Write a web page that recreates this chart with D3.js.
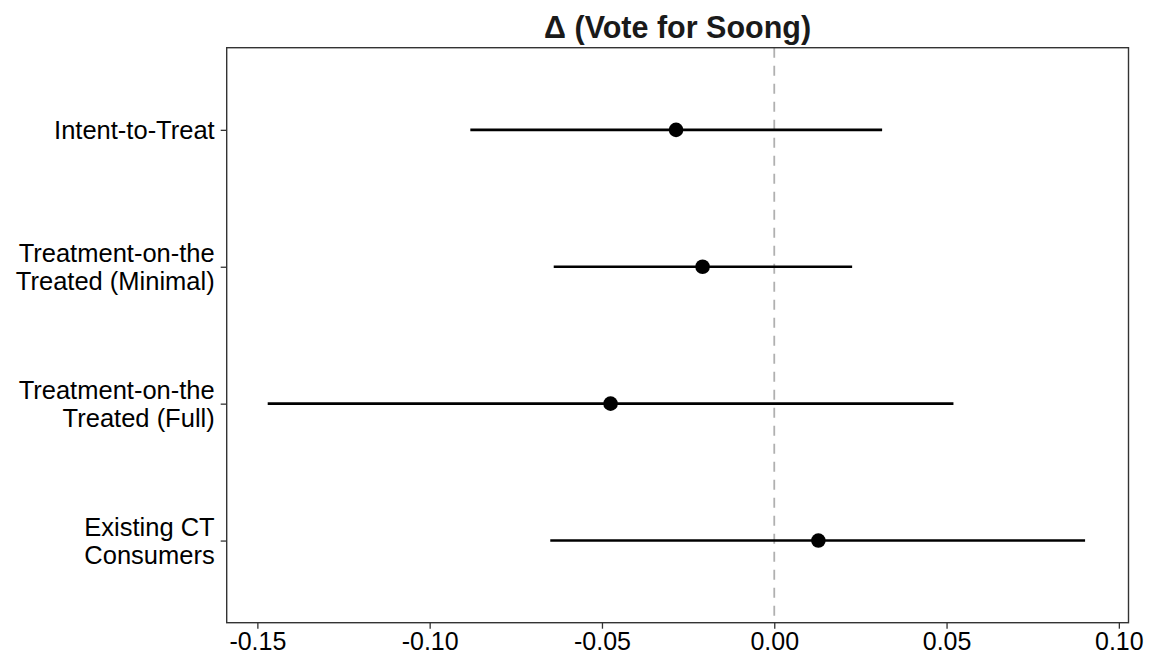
<!DOCTYPE html>
<html>
<head>
<meta charset="utf-8">
<script src="https://cdn.jsdelivr.net/npm/d3@7"></script>
<style>
  body { margin: 0; background: #fff; }
  svg text { font-family: "Liberation Sans", Arial, Helvetica, sans-serif; }
</style>
</head>
<body>
<div id="chart"></div>
<script>
// estimates
var labels = [
  ["Intent-to-Treat"],
  ["Treatment-on-the", "Treated (Minimal)"],
  ["Treatment-on-the", "Treated (Full)"],
  ["Existing CT", "Consumers"]
];
var estimates = [-0.0285, -0.0208, -0.0475, 0.0128];
var lower     = [-0.0882, -0.0640, -0.1470, -0.0650];
var upper     = [ 0.0313,  0.0226,  0.0520,  0.0902];
var xTicks    = [-0.15, -0.10, -0.05, 0.00, 0.05, 0.10];

var data = labels.map(function(l, i) {
  return {name: l.join(" "), lines: l, est: estimates[i], lo: lower[i], hi: upper[i]};
});

var W = 1150, H = 664;
var margin = {top: 47.7, right: 21.5, bottom: 41.3, left: 226.7},
    width = W - margin.left - margin.right,
    height = H - margin.top - margin.bottom;

var svg = d3.select("#chart")
  .append("svg")
    .attr("width", W)
    .attr("height", H)
  .append("g")
    .attr("transform", "translate(" + margin.left + "," + margin.top + ")");

var x = d3.scaleLinear()
  .domain([-0.1589, 0.1028])
  .range([0, width]);

var y = d3.scalePoint()
  .domain(data.map(function(d) { return d.name; }))
  .range([0, height])
  .padding(0.6);

// zero reference line
svg.append("line")
  .attr("x1", x(0)).attr("x2", x(0))
  .attr("y1", 0).attr("y2", height)
  .attr("stroke", "#b0b0b0")
  .attr("stroke-width", 1.8)
  .attr("stroke-dasharray", "10,8");

// intervals
svg.selectAll(".ci")
  .data(data)
  .enter()
  .append("line")
    .attr("class", "ci")
    .attr("x1", function(d) { return x(d.lo); })
    .attr("x2", function(d) { return x(d.hi); })
    .attr("y1", function(d) { return y(d.name); })
    .attr("y2", function(d) { return y(d.name); })
    .attr("stroke", "#000")
    .attr("stroke-width", 2.6);

// points
svg.selectAll(".pt")
  .data(data)
  .enter()
  .append("circle")
    .attr("class", "pt")
    .attr("cx", function(d) { return x(d.est); })
    .attr("cy", function(d) { return y(d.name); })
    .attr("r", 7.3)
    .style("fill", "#000");

// x axis
var gx = svg.append("g")
  .attr("transform", "translate(0," + height + ")")
  .call(d3.axisBottom(x).tickValues(xTicks).tickSize(6).tickSizeOuter(0)
    .tickFormat(function(d) { return d3.format(".2f")(d).replace("\u2212", "-"); }));
gx.select(".domain").remove();
gx.selectAll(".tick line").attr("stroke", "#333").attr("stroke-width", 1.3);
gx.selectAll(".tick text")
  .attr("y", 10)
  .attr("fill", "#000")
  .style("font-size", "25px");

// y axis
var gy = svg.append("g")
  .call(d3.axisLeft(y).tickSize(6).tickSizeOuter(0).tickFormat(""));
gy.select(".domain").remove();
gy.selectAll(".tick line").attr("stroke", "#333").attr("stroke-width", 1.3);

var lineH = 28;
gy.selectAll(".tick").each(function(name) {
  var d = data.find(function(e) { return e.name == name; });
  var t = d3.select(this).append("text")
    .attr("x", -12)
    .attr("fill", "#000")
    .attr("text-anchor", "end")
    .style("font-size", "25.5px");
  var n = d.lines.length;
  d.lines.forEach(function(s, i) {
    t.append("tspan")
      .attr("x", -12)
      .attr("y", (i - (n - 1) / 2) * lineH + 9)
      .text(s);
  });
});

// panel border
svg.append("rect")
  .attr("x", 0).attr("y", 0)
  .attr("width", width).attr("height", height)
  .attr("fill", "none")
  .attr("stroke", "#333")
  .attr("stroke-width", 1.4);

// title
svg.append("text")
  .attr("x", width / 2)
  .attr("y", -10)
  .attr("text-anchor", "middle")
  .attr("fill", "#1a1a1a")
  .style("font-size", "30.5px")
  .style("font-weight", "bold")
  .text("\u0394 (Vote for Soong)");
</script>
</body>
</html>
